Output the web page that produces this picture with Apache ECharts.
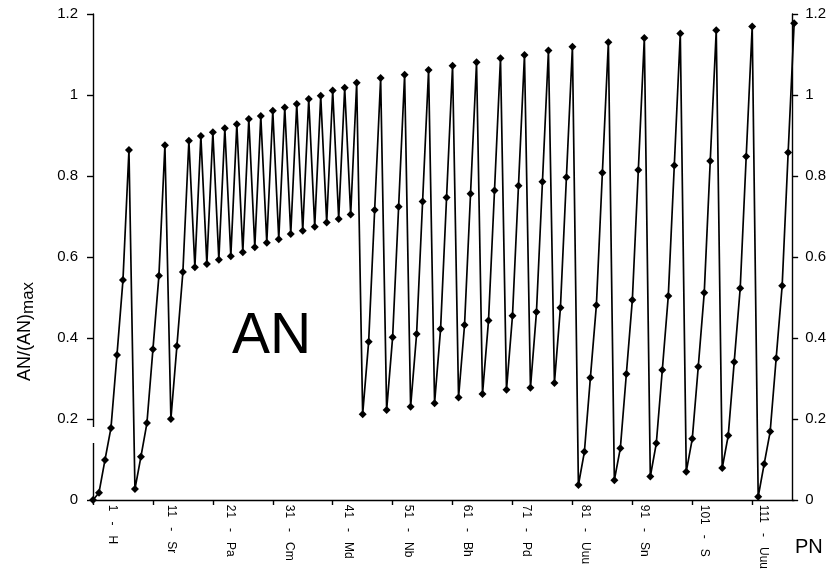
<!DOCTYPE html>
<html>
<head>
<meta charset="utf-8">
<script src="https://cdn.jsdelivr.net/npm/echarts@6/dist/echarts.min.js"></script>
<style>
  html, body { margin: 0; padding: 0; background: #fff; }
  #chart { width: 829px; height: 572px; }
</style>
</head>
<body>
<div id="chart"></div>
<script>
// Periodic number (PN) of each element in the ordering
const pn = Array.from({ length: 118 }, (_, i) => i + 1);

// Labels printed under every tenth position
const tickLabels = {
  1: '1 - H', 11: '11 - Sr', 21: '21 - Pa', 31: '31 - Cm',
  41: '41 - Md', 51: '51 - Nb', 61: '61 - Bh', 71: '71 - Pd',
  81: '81 - Uuu', 91: '91 - Sn', 101: '101 - S', 111: '111 - Uuu'
};

// Normalised atomic number AN/(AN)max for each PN
const anRatio = [
  0.000, 0.018, 0.099, 0.178, 0.358, 0.543, 0.864,
  0.027, 0.107, 0.190, 0.372, 0.554, 0.876,
  0.200, 0.380, 0.563, 0.887, 0.575, 0.899, 0.583, 0.908,
  0.593, 0.918, 0.602, 0.928, 0.612, 0.941, 0.624, 0.948,
  0.635, 0.961, 0.644, 0.969, 0.657, 0.978, 0.665, 0.990,
  0.675, 0.998, 0.685, 1.011, 0.694, 1.018, 0.705, 1.030,
  0.212, 0.391, 0.716, 1.042, 0.222, 0.402, 0.724, 1.050,
  0.230, 0.410, 0.737, 1.062, 0.239, 0.422, 0.747, 1.072,
  0.253, 0.432, 0.756, 1.081, 0.262, 0.443, 0.764, 1.091,
  0.272, 0.455, 0.776, 1.099, 0.277, 0.464, 0.786, 1.110,
  0.289, 0.475, 0.797, 1.119,
  0.037, 0.119, 0.302, 0.481, 0.808, 1.130,
  0.049, 0.128, 0.311, 0.494, 0.815, 1.141,
  0.058, 0.140, 0.321, 0.504, 0.826, 1.152,
  0.070, 0.151, 0.329, 0.512, 0.837, 1.160,
  0.079, 0.159, 0.341, 0.523, 0.848, 1.169,
  0.008, 0.089, 0.169, 0.350, 0.529, 0.858, 1.177
];

const FONT = '"Liberation Sans", Arial, sans-serif';
const chart = echarts.init(document.getElementById('chart'), null, { renderer: 'canvas' });

const valueAxis = (position, extra) => Object.assign({
  type: 'value',
  gridIndex: 0,
  position: position,
  min: 0,
  max: 1.2,
  interval: 0.2,
  axisLine: { show: true, lineStyle: { color: '#000', width: 1.4 } },
  axisTick: { show: true, inside: false, length: 6, lineStyle: { color: '#000', width: 1.4 } },
  axisLabel: { color: '#000', fontFamily: FONT, fontSize: 15, margin: 15 },
  splitLine: { show: false }
}, extra || {});

chart.setOption({
  animation: false,
  backgroundColor: '#fff',
  grid: [
    { left: 93, top: 14, width: 704, height: 486, containLabel: false },
    // separate strip that only carries the rotated category captions
    { left: 112, top: 14, width: 692.6, height: 486, containLabel: false }
  ],
  xAxis: [
    {
      type: 'category',
      gridIndex: 0,
      data: pn,
      boundaryGap: false,
      axisLine: { show: true, lineStyle: { color: '#000', width: 1.4 } },
      axisTick: { show: true, interval: 9, length: 5, lineStyle: { color: '#000', width: 1.4 } },
      axisLabel: { show: false },
      splitLine: { show: false }
    },
    {
      type: 'category',
      gridIndex: 1,
      data: pn,
      boundaryGap: false,
      axisLine: { show: false },
      axisTick: { show: false },
      axisLabel: {
        show: true,
        interval: 9,
        rotate: -90,
        margin: 12,
        fontFamily: FONT,
        fontSize: 12,
        color: '#000',
        formatter: v => (tickLabels[v] || '').replace(' - ', '   -   ')
      },
      splitLine: { show: false }
    }
  ],
  yAxis: [
    valueAxis('left'),
    valueAxis('right', { offset: -2, axisLabel: { color: '#000', fontFamily: FONT, fontSize: 15, margin: 13 } }),
    { type: 'value', gridIndex: 1, show: false, min: 0, max: 1.2 }
  ],
  series: [{
    name: 'AN',
    type: 'line',
    xAxisIndex: 0,
    yAxisIndex: 0,
    data: anRatio,
    symbol: 'diamond',
    symbolSize: 8,
    showSymbol: true,
    showAllSymbol: true,
    clip: false,
    itemStyle: { color: '#000' },
    lineStyle: { color: '#000', width: 1.7 },
    z: 3
  }],
  graphic: [
    // short break in the left axis line
    { type: 'rect', shape: { x: 90, y: 427, width: 5, height: 16 }, style: { fill: '#fff' }, z: 100 },
    {
      type: 'text', x: 232, y: 337, z: 50,
      style: { text: 'AN', fontFamily: FONT, fontSize: 57, fill: '#000', verticalAlign: 'middle', align: 'left' }
    },
    {
      type: 'text', x: 795, y: 547, z: 50,
      style: { text: 'PN', fontFamily: FONT, fontSize: 20, fill: '#000', verticalAlign: 'middle', align: 'left' }
    },
    {
      type: 'group', x: 25, y: 381, rotation: Math.PI / 2, z: 50,
      children: [
        { type: 'text', x: 0, y: 0, style: { text: 'AN/(AN)', fontFamily: FONT, fontSize: 18, fill: '#000', verticalAlign: 'middle', align: 'left' } },
        { type: 'text', x: 67, y: 3, style: { text: 'max', fontFamily: FONT, fontSize: 17, fill: '#000', verticalAlign: 'middle', align: 'left' } }
      ]
    }
  ]
});
</script>
</body>
</html>
